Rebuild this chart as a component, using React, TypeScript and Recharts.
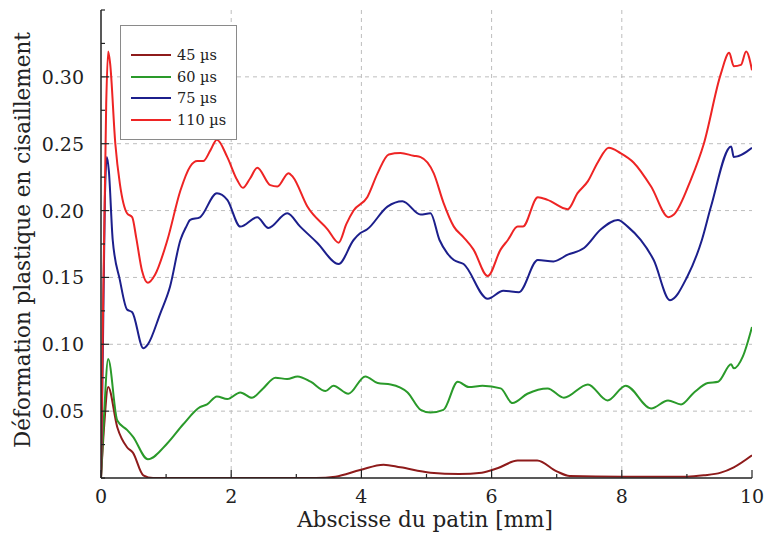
import { LineChart, Line, XAxis, YAxis, CartesianGrid } from 'recharts';

const xTicks = [0, 1, 2, 3, 4, 5, 6, 7, 8, 9, 10];
const xLabels = [0, 2, 4, 6, 8, 10];
const yTicks = [0, 0.025, 0.05, 0.075, 0.1, 0.125, 0.15, 0.175, 0.2, 0.225, 0.25, 0.275, 0.3, 0.325, 0.35];
const yLabels = [0.05, 0.1, 0.15, 0.2, 0.25, 0.3];

// 45 µs
const x45 = [0, 0.05, 0.11, 0.25, 0.4, 0.49, 0.65, 0.8, 1.5, 2.5, 3.3, 3.6, 3.98, 4.34, 4.6, 5.06, 5.5, 5.85, 6.1, 6.4, 6.7, 7.0, 7.2, 8.0, 9.0, 9.26, 9.52, 9.72, 10];
const y45 = [0, 0.04, 0.068, 0.038, 0.023, 0.019, 0.002, 0, 0, 0, 0, 0.001, 0.006, 0.01, 0.008, 0.004, 0.003, 0.004, 0.0075, 0.013, 0.013, 0.005, 0.0015, 0.001, 0.001, 0.002, 0.004, 0.008, 0.017];

// 60 µs
const x60 = [0, 0.05, 0.11, 0.25, 0.4, 0.49, 0.72, 1.02, 1.26, 1.52, 1.63, 1.78, 1.94, 2.14, 2.32, 2.49, 2.68, 2.86, 3.02, 3.22, 3.45, 3.57, 3.8, 4.06, 4.25, 4.45, 4.71, 4.91, 5.06, 5.26, 5.48, 5.65, 5.86, 6.14, 6.32, 6.55, 6.86, 7.11, 7.48, 7.78, 8.06, 8.45, 8.71, 8.91, 9.11, 9.32, 9.48, 9.68, 9.72, 9.86, 10];
const y60 = [0, 0.05, 0.089, 0.043, 0.036, 0.031, 0.014, 0.026, 0.04, 0.053, 0.055, 0.061, 0.059, 0.064, 0.06, 0.067, 0.075, 0.074, 0.076, 0.072, 0.065, 0.069, 0.063, 0.076, 0.071, 0.07, 0.064, 0.051, 0.049, 0.051, 0.072, 0.068, 0.069, 0.067, 0.056, 0.063, 0.067, 0.06, 0.07, 0.058, 0.069, 0.052, 0.058, 0.055, 0.064, 0.071, 0.072, 0.085, 0.082, 0.091, 0.113];

// 75 µs
const x75 = [0, 0.03, 0.06, 0.09, 0.12, 0.18, 0.29, 0.4, 0.48, 0.65, 0.72, 0.91, 1.06, 1.22, 1.31, 1.37, 1.52, 1.78, 1.94, 2.14, 2.4, 2.57, 2.86, 3.06, 3.32, 3.65, 3.88, 3.98, 4.09, 4.4, 4.63, 4.91, 5.06, 5.2, 5.32, 5.42, 5.57, 5.94, 6.18, 6.42, 6.71, 6.95, 7.17, 7.42, 7.68, 7.94, 8.09, 8.29, 8.49, 8.74, 9.0, 9.23, 9.37, 9.68, 9.72, 10];
const y75 = [0, 0.1, 0.21, 0.24, 0.23, 0.178, 0.148, 0.126, 0.124, 0.097, 0.1, 0.123, 0.143, 0.178, 0.188, 0.193, 0.195, 0.213, 0.208, 0.188, 0.195, 0.187, 0.198, 0.188, 0.176, 0.16, 0.178, 0.183, 0.186, 0.203, 0.207, 0.197, 0.198, 0.178, 0.168, 0.163, 0.16, 0.134, 0.14, 0.139, 0.163, 0.162, 0.167, 0.172, 0.186, 0.193, 0.188, 0.178, 0.163, 0.133, 0.15, 0.178, 0.203, 0.248, 0.24, 0.247];

// 110 µs
const x110 = [0, 0.03, 0.08, 0.11, 0.14, 0.22, 0.29, 0.4, 0.48, 0.54, 0.63, 0.72, 0.83, 1.02, 1.22, 1.37, 1.48, 1.57, 1.68, 1.78, 1.94, 2.09, 2.18, 2.29, 2.4, 2.6, 2.71, 2.88, 2.95, 3.17, 3.48, 3.65, 3.77, 3.88, 4.09, 4.25, 4.42, 4.6, 4.8, 4.91, 5.11, 5.26, 5.42, 5.57, 5.72, 5.94, 6.14, 6.25, 6.4, 6.48, 6.71, 6.86, 7.17, 7.32, 7.48, 7.63, 7.8, 7.98, 8.18, 8.45, 8.72, 8.8, 9.06, 9.26, 9.52, 9.65, 9.72, 9.83, 9.91, 10];
const y110 = [0, 0.12, 0.28, 0.319, 0.31, 0.25, 0.22, 0.198, 0.195, 0.18, 0.155, 0.146, 0.152, 0.178, 0.215, 0.233, 0.237, 0.237, 0.245, 0.253, 0.24, 0.223, 0.217, 0.224, 0.232, 0.219, 0.218, 0.228, 0.225, 0.203, 0.186, 0.176, 0.19, 0.2, 0.21, 0.228, 0.242, 0.243, 0.241, 0.24, 0.228, 0.206, 0.188, 0.18, 0.171, 0.151, 0.171, 0.178, 0.188, 0.188, 0.21, 0.208, 0.201, 0.213, 0.222, 0.236, 0.247, 0.243, 0.236, 0.218, 0.195, 0.197, 0.223, 0.25, 0.302, 0.318, 0.308, 0.309, 0.319, 0.305];

const series = [
  { name: '45 µs', color: '#8e1b1b', xs: x45, ys: y45 },
  { name: '60 µs', color: '#2a9a2a', xs: x60, ys: y60 },
  { name: '75 µs', color: '#1c1f8c', xs: x75, ys: y75 },
  { name: '110 µs', color: '#ee2424', xs: x110, ys: y110 },
];

const FONT = '"DejaVu Serif", serif';
const AXIS = '#222';

function BottomTick(props: any) {
  const { x, y, payload } = props;
  const major = xLabels.includes(payload.value);
  const base = y - 8;
  return (
    <g>
      <line x1={x} y1={base} x2={x} y2={base - (major ? 8 : 4)} stroke={AXIS} strokeWidth={1.2} />
      {major && (
        <text x={x} y={base + 25} textAnchor="middle" fontSize={19} fontFamily={FONT} fill="#222">
          {payload.value}
        </text>
      )}
    </g>
  );
}

function LeftTick(props: any) {
  const { x, y, payload } = props;
  const v = Math.round(payload.value * 1000) / 1000;
  const major = yLabels.some(l => Math.abs(l - v) < 1e-6);
  const base = x + 12;
  return (
    <g>
      <line x1={base} y1={y} x2={base + (major ? 8 : 4)} y2={y} stroke={AXIS} strokeWidth={1.2} />
      {major && (
        <text x={base - 17} y={y + 7} textAnchor="end" fontSize={19} fontFamily={FONT} fill="#222">
          {v.toFixed(2)}
        </text>
      )}
    </g>
  );
}

function TopTick(props: any) {
  const { x, y, payload } = props;
  const major = xLabels.includes(payload.value);
  return <line x1={x} y1={y} x2={x} y2={y + (major ? 8 : 4)} stroke={AXIS} strokeWidth={1.2} />;
}

function RightTick(props: any) {
  const { x, y, payload } = props;
  const v = Math.round(payload.value * 1000) / 1000;
  const major = Math.abs(v * 20 - Math.round(v * 20)) < 1e-6;
  return <line x1={x} y1={y} x2={x - (major ? 8 : 4)} y2={y} stroke={AXIS} strokeWidth={1.2} />;
}

export default function App() {
  return (
    <div style={{ position: 'absolute', left: 0, top: 0, width: 766, height: 537, background: '#fff' }}>
      <LineChart width={766} height={537} margin={{ top: 10, right: 14, bottom: 29, left: 41 }}>
        <CartesianGrid
          stroke="#bdbdbd"
          strokeDasharray="4 4"
          verticalValues={[2, 4, 6, 8]}
          horizontalValues={yLabels}
        />
        <XAxis
          type="number"
          dataKey="x"
          domain={[0, 10]}
          ticks={xTicks}
          interval={0}
          height={30}
          tickLine={false}
          tickSize={0}
          tickMargin={8}
          tick={<BottomTick />}
          axisLine={{ stroke: AXIS, strokeWidth: 1.5 }}
          allowDataOverflow
        />
        <XAxis
          xAxisId="top"
          orientation="top"
          type="number"
          dataKey="x"
          domain={[0, 10]}
          ticks={xTicks}
          interval={0}
          height={0}
          tickLine={false}
          tickSize={0}
          tickMargin={0}
          tick={<TopTick />}
          axisLine={{ stroke: AXIS, strokeWidth: 1.5 }}
        />
        <YAxis
          type="number"
          domain={[0, 0.35]}
          ticks={yTicks}
          interval={0}
          width={60}
          tickLine={false}
          tickSize={0}
          tickMargin={12}
          tick={<LeftTick />}
          axisLine={{ stroke: AXIS, strokeWidth: 1.5 }}
          allowDataOverflow
        />
        <YAxis
          yAxisId="right"
          orientation="right"
          type="number"
          domain={[0, 0.35]}
          ticks={yTicks}
          interval={0}
          width={0}
          tickLine={false}
          tickSize={0}
          tickMargin={0}
          tick={<RightTick />}
          axisLine={{ stroke: AXIS, strokeWidth: 1.5 }}
        />
        {series.map(s => (
          <Line
            key={s.name}
            data={s.xs.map((x, i) => ({ x, y: s.ys[i] }))}
            dataKey="y"
            name={s.name}
            type="monotone"
            stroke={s.color}
            strokeWidth={2}
            dot={false}
            isAnimationActive={false}
          />
        ))}
      </LineChart>
      <svg
        width={40}
        height={537}
        style={{ position: 'absolute', left: 0, top: 0, overflow: 'visible' }}
      >
        <text
          x={0}
          y={0}
          transform="translate(30 240) rotate(-90)"
          textAnchor="middle"
          fontSize={21.5}
          fontFamily={FONT}
          fill="#222"
        >
          Déformation plastique en cisaillement
        </text>
      </svg>
      <div
        style={{
          position: 'absolute',
          left: 225,
          top: 507,
          width: 400,
          textAlign: 'center',
          fontFamily: FONT,
          fontSize: 21.5,
          color: '#222',
          lineHeight: '26px',
        }}
      >
        Abscisse du patin [mm]
      </div>
      <div
        style={{
          position: 'absolute',
          left: 120,
          top: 25,
          width: 117,
          height: 115,
          border: '1px solid #8a8a8a',
          background: '#fff',
          boxSizing: 'border-box',
          fontFamily: FONT,
          fontSize: 14.5,
          color: '#222',
          paddingTop: 18,
        }}
      >
        {series.map(s => (
          <div key={s.name} style={{ display: 'flex', alignItems: 'center', height: 21.7 }}>
            <div style={{ width: 40, height: 2, background: s.color, marginLeft: 10, marginRight: 6 }} />
            <span>{s.name}</span>
          </div>
        ))}
      </div>
    </div>
  );
}
